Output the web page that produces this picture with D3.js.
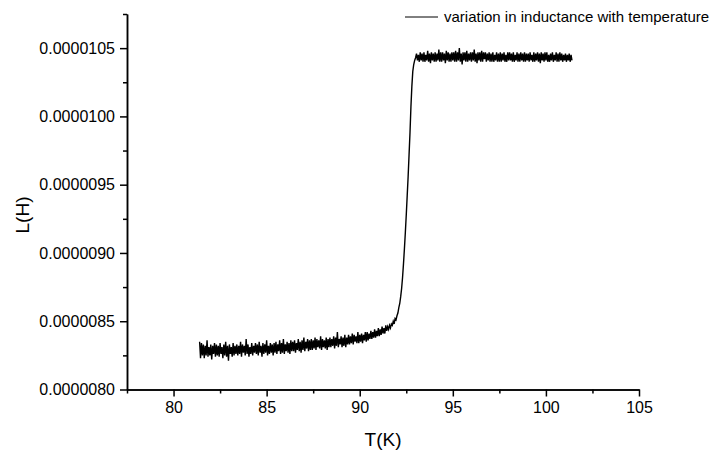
<!DOCTYPE html>
<html>
<head>
<meta charset="utf-8">
<script src="https://cdn.jsdelivr.net/npm/d3@7"></script>
<style>
  body { margin: 0; background: #fff; }
  text { font-family: "Liberation Sans", Arial, sans-serif; fill: #000; }
</style>
</head>
<body>
<div id="chart"></div>
<script>
// temperature in K
const temperature = [
  81.40, 81.45, 81.50, 81.55, 81.60, 81.65, 81.70, 81.75, 81.80, 81.85, 81.90, 81.95, 82.00, 82.05, 82.10, 82.15, 82.20, 82.25, 82.30, 82.35,
  82.40, 82.45, 82.50, 82.55, 82.60, 82.65, 82.70, 82.75, 82.80, 82.85, 82.90, 82.95, 83.00, 83.05, 83.10, 83.15, 83.20, 83.25, 83.30, 83.35,
  83.40, 83.45, 83.50, 83.55, 83.60, 83.65, 83.70, 83.75, 83.80, 83.85, 83.90, 83.95, 84.00, 84.05, 84.10, 84.15, 84.20, 84.25, 84.30, 84.35,
  84.40, 84.45, 84.50, 84.55, 84.60, 84.65, 84.70, 84.75, 84.80, 84.85, 84.90, 84.95, 85.00, 85.05, 85.10, 85.15, 85.20, 85.25, 85.30, 85.35,
  85.40, 85.45, 85.50, 85.55, 85.60, 85.65, 85.70, 85.75, 85.80, 85.85, 85.90, 85.95, 86.00, 86.05, 86.10, 86.15, 86.20, 86.25, 86.30, 86.35,
  86.40, 86.45, 86.50, 86.55, 86.60, 86.65, 86.70, 86.75, 86.80, 86.85, 86.90, 86.95, 87.00, 87.05, 87.10, 87.15, 87.20, 87.25, 87.30, 87.35,
  87.40, 87.45, 87.50, 87.55, 87.60, 87.65, 87.70, 87.75, 87.80, 87.85, 87.90, 87.95, 88.00, 88.05, 88.10, 88.15, 88.20, 88.25, 88.30, 88.35,
  88.40, 88.45, 88.50, 88.55, 88.60, 88.65, 88.70, 88.75, 88.80, 88.85, 88.90, 88.95, 89.00, 89.05, 89.10, 89.15, 89.20, 89.25, 89.30, 89.35,
  89.40, 89.45, 89.50, 89.55, 89.60, 89.65, 89.70, 89.75, 89.80, 89.85, 89.90, 89.95, 90.00, 90.05, 90.10, 90.15, 90.20, 90.25, 90.30, 90.35,
  90.40, 90.45, 90.50, 90.55, 90.60, 90.65, 90.70, 90.75, 90.80, 90.85, 90.90, 90.95, 91.00, 91.05, 91.10, 91.15, 91.20, 91.25, 91.30, 91.35,
  91.40, 91.45, 91.50, 91.55, 91.60, 91.65, 91.70, 91.75, 91.80, 91.85, 91.90, 91.95,
  92.00, 92.05, 92.10, 92.15, 92.20, 92.25, 92.30, 92.35, 92.40, 92.45, 92.50, 92.55, 92.60, 92.65, 92.70, 92.75, 92.80, 92.85, 92.90, 92.95, 93.00,
  93.05, 93.10, 93.15, 93.20, 93.25, 93.30, 93.35, 93.40, 93.45, 93.50, 93.55, 93.60, 93.65, 93.70, 93.75, 93.80, 93.85, 93.90, 93.95, 94.00,
  94.05, 94.10, 94.15, 94.20, 94.25, 94.30, 94.35, 94.40, 94.45, 94.50, 94.55, 94.60, 94.65, 94.70, 94.75, 94.80, 94.85, 94.90, 94.95, 95.00,
  95.05, 95.10, 95.15, 95.20, 95.25, 95.30, 95.35, 95.40, 95.45, 95.50, 95.55, 95.60, 95.65, 95.70, 95.75, 95.80, 95.85, 95.90, 95.95, 96.00,
  96.05, 96.10, 96.15, 96.20, 96.25, 96.30, 96.35, 96.40, 96.45, 96.50, 96.55, 96.60, 96.65, 96.70, 96.75, 96.80, 96.85, 96.90, 96.95, 97.00,
  97.05, 97.10, 97.15, 97.20, 97.25, 97.30, 97.35, 97.40, 97.45, 97.50, 97.55, 97.60, 97.65, 97.70, 97.75, 97.80, 97.85, 97.90, 97.95, 98.00,
  98.05, 98.10, 98.15, 98.20, 98.25, 98.30, 98.35, 98.40, 98.45, 98.50, 98.55, 98.60, 98.65, 98.70, 98.75, 98.80, 98.85, 98.90, 98.95, 99.00,
  99.05, 99.10, 99.15, 99.20, 99.25, 99.30, 99.35, 99.40, 99.45, 99.50, 99.55, 99.60, 99.65, 99.70, 99.75, 99.80, 99.85, 99.90, 99.95, 100.00,
  100.05, 100.10, 100.15, 100.20, 100.25, 100.30, 100.35, 100.40, 100.45, 100.50, 100.55, 100.60, 100.65, 100.70, 100.75, 100.80, 100.85, 100.90, 100.95, 101.00,
  101.05, 101.10, 101.15, 101.20, 101.25, 101.30, 101.35, 101.40
]

// inductance in microhenry
const inductance = [
  8.35, 8.23, 8.34, 8.25, 8.33, 8.23, 8.32, 8.25, 8.36, 8.24, 8.31, 8.25, 8.33, 8.22, 8.32, 8.26, 8.34, 8.24, 8.33, 8.25,
  8.32, 8.24, 8.34, 8.26, 8.31, 8.23, 8.33, 8.25, 8.35, 8.24, 8.32, 8.21, 8.33, 8.26, 8.31, 8.24, 8.34, 8.25, 8.32, 8.26,
  8.33, 8.25, 8.32, 8.26, 8.35, 8.24, 8.33, 8.27, 8.32, 8.25, 8.37, 8.26, 8.33, 8.24, 8.31, 8.26, 8.34, 8.25, 8.32, 8.27,
  8.34, 8.26, 8.33, 8.25, 8.35, 8.27, 8.32, 8.24, 8.34, 8.26, 8.33, 8.27, 8.36, 8.25, 8.32, 8.26, 8.34, 8.27, 8.33, 8.25,
  8.34, 8.27, 8.35, 8.26, 8.33, 8.28, 8.36, 8.26, 8.34, 8.27, 8.37, 8.26, 8.33, 8.28, 8.35, 8.27, 8.34, 8.26, 8.36, 8.28,
  8.35, 8.28, 8.36, 8.27, 8.34, 8.29, 8.37, 8.28, 8.35, 8.27, 8.36, 8.29, 8.38, 8.28, 8.35, 8.30, 8.37, 8.28, 8.36, 8.29,
  8.37, 8.29, 8.36, 8.30, 8.38, 8.29, 8.37, 8.31, 8.36, 8.30, 8.39, 8.29, 8.37, 8.31, 8.36, 8.30, 8.38, 8.29, 8.37, 8.31,
  8.38, 8.31, 8.37, 8.32, 8.39, 8.30, 8.38, 8.32, 8.42, 8.31, 8.37, 8.33, 8.39, 8.31, 8.38, 8.32, 8.40, 8.31, 8.38, 8.33,
  8.40, 8.33, 8.39, 8.34, 8.41, 8.33, 8.40, 8.35, 8.39, 8.34, 8.42, 8.34, 8.40, 8.35, 8.41, 8.34, 8.40, 8.36, 8.42, 8.35,
  8.42, 8.36, 8.41, 8.37, 8.43, 8.37, 8.42, 8.38, 8.44, 8.38, 8.43, 8.39, 8.45, 8.39, 8.44, 8.40, 8.46, 8.41, 8.45, 8.41,
  8.47, 8.43, 8.46, 8.44, 8.47, 8.45, 8.48, 8.47, 8.50, 8.48, 8.52, 8.51,
  8.54, 8.56, 8.60, 8.63, 8.68, 8.74, 8.82, 8.92, 9.03, 9.15, 9.28, 9.42, 9.56, 9.72, 9.88, 10.07, 10.22, 10.33, 10.38, 10.41, 10.43,
  10.46, 10.41, 10.45, 10.40, 10.47, 10.41, 10.46, 10.40, 10.47, 10.40, 10.45, 10.41, 10.48, 10.40, 10.46, 10.39, 10.47, 10.41, 10.46, 10.40,
  10.47, 10.40, 10.46, 10.41, 10.49, 10.40, 10.47, 10.40, 10.47, 10.41, 10.46, 10.39, 10.48, 10.41, 10.47, 10.40, 10.46, 10.40, 10.47, 10.41,
  10.47, 10.40, 10.48, 10.40, 10.47, 10.41, 10.50, 10.40, 10.46, 10.38, 10.47, 10.41, 10.47, 10.40, 10.48, 10.40, 10.46, 10.41, 10.47, 10.40,
  10.47, 10.41, 10.49, 10.40, 10.46, 10.39, 10.47, 10.41, 10.47, 10.40, 10.48, 10.40, 10.47, 10.42, 10.47, 10.40, 10.46, 10.41, 10.47, 10.40,
  10.46, 10.40, 10.47, 10.40, 10.45, 10.41, 10.47, 10.40, 10.46, 10.40, 10.47, 10.40, 10.46, 10.41, 10.47, 10.40, 10.45, 10.40, 10.47, 10.41,
  10.47, 10.41, 10.46, 10.40, 10.47, 10.40, 10.45, 10.41, 10.47, 10.40, 10.46, 10.40, 10.47, 10.41, 10.46, 10.40, 10.47, 10.40, 10.46, 10.41,
  10.46, 10.40, 10.47, 10.41, 10.45, 10.40, 10.47, 10.40, 10.46, 10.41, 10.47, 10.40, 10.46, 10.39, 10.47, 10.41, 10.46, 10.40, 10.47, 10.41,
  10.47, 10.40, 10.45, 10.40, 10.46, 10.41, 10.47, 10.40, 10.45, 10.41, 10.47, 10.40, 10.46, 10.40, 10.47, 10.41, 10.46, 10.40, 10.45, 10.41,
  10.46, 10.40, 10.45, 10.41, 10.46, 10.40, 10.45, 10.41
]

const xTicks = [80, 85, 90, 95, 100, 105]
const xMinorTicks = [77.5, 82.5, 87.5, 92.5, 97.5, 102.5]
const yTicks = [0.0000080, 0.0000085, 0.0000090, 0.0000095, 0.0000100, 0.0000105]
const yMinorTicks = [0.00000825, 0.00000875, 0.00000925, 0.00000975, 0.00001025, 0.00001075]
const legendLabel = "variation in inductance with temperature"

const width = 722
const height = 453
const plotLeft = 127, plotRight = 639, plotTop = 14, plotBottom = 389.5

const svg = d3.select("#chart").append("svg")
  .attr("width", width)
  .attr("height", height)

const xScale = d3.scaleLinear().domain([77.5, 105]).range([plotLeft, plotRight])
const yScale = d3.scaleLinear().domain([0.0000080, 0.00001075]).range([plotBottom, plotTop])

const data = temperature.map((t, i) => ({t: t, l: inductance[i] * 1e-6}))

// minor ticks first
svg.append("g")
  .attr("transform", `translate(0,${plotBottom})`)
  .call(d3.axisBottom(xScale).tickValues(xMinorTicks).tickSize(4).tickSizeOuter(0).tickFormat(""))
svg.append("g")
  .attr("transform", `translate(${plotLeft},0)`)
  .call(d3.axisLeft(yScale).tickValues(yMinorTicks).tickSize(4).tickSizeOuter(0).tickFormat(""))

svg.append("g")
  .attr("transform", `translate(0,${plotBottom})`)
  .call(d3.axisBottom(xScale).tickValues(xTicks).tickSize(7).tickSizeOuter(0).tickPadding(5))
svg.append("g")
  .attr("transform", `translate(${plotLeft},0)`)
  .call(d3.axisLeft(yScale).tickValues(yTicks).tickSize(7).tickSizeOuter(0).tickPadding(5)
    .tickFormat(d3.format(".7f")))

svg.selectAll(".domain, .tick line")
  .attr("stroke", "#000")
  .attr("stroke-width", 1.5)
svg.selectAll(".tick text")
  .style("font-family", '"Liberation Sans", Arial, sans-serif')
  .style("font-size", "16px")
  .attr("fill", "#000")

svg.append("text")
  .attr("x", (plotLeft + plotRight) / 2)
  .attr("y", 446)
  .attr("text-anchor", "middle")
  .style("font-size", "19px")
  .text("T(K)")

svg.append("text")
  .attr("transform", "translate(29,215) rotate(-90)")
  .attr("text-anchor", "middle")
  .style("font-size", "19px")
  .text("L(H)")

const line = d3.line()
  .x(d => xScale(d.t))
  .y(d => yScale(d.l))

svg.append("path")
  .datum(data)
  .attr("fill", "none")
  .attr("stroke", "#000")
  .attr("stroke-width", 1.4)
  .attr("d", line)

// legend
const legend = svg.append("g")
legend.append("line")
  .attr("x1", 405).attr("x2", 438)
  .attr("y1", 17).attr("y2", 17)
  .attr("stroke", "#000")
  .attr("stroke-width", 1)
legend.append("text")
  .attr("x", 444)
  .attr("y", 22)
  .style("font-size", "15px")
  .text(legendLabel)
</script>
</body>
</html>
